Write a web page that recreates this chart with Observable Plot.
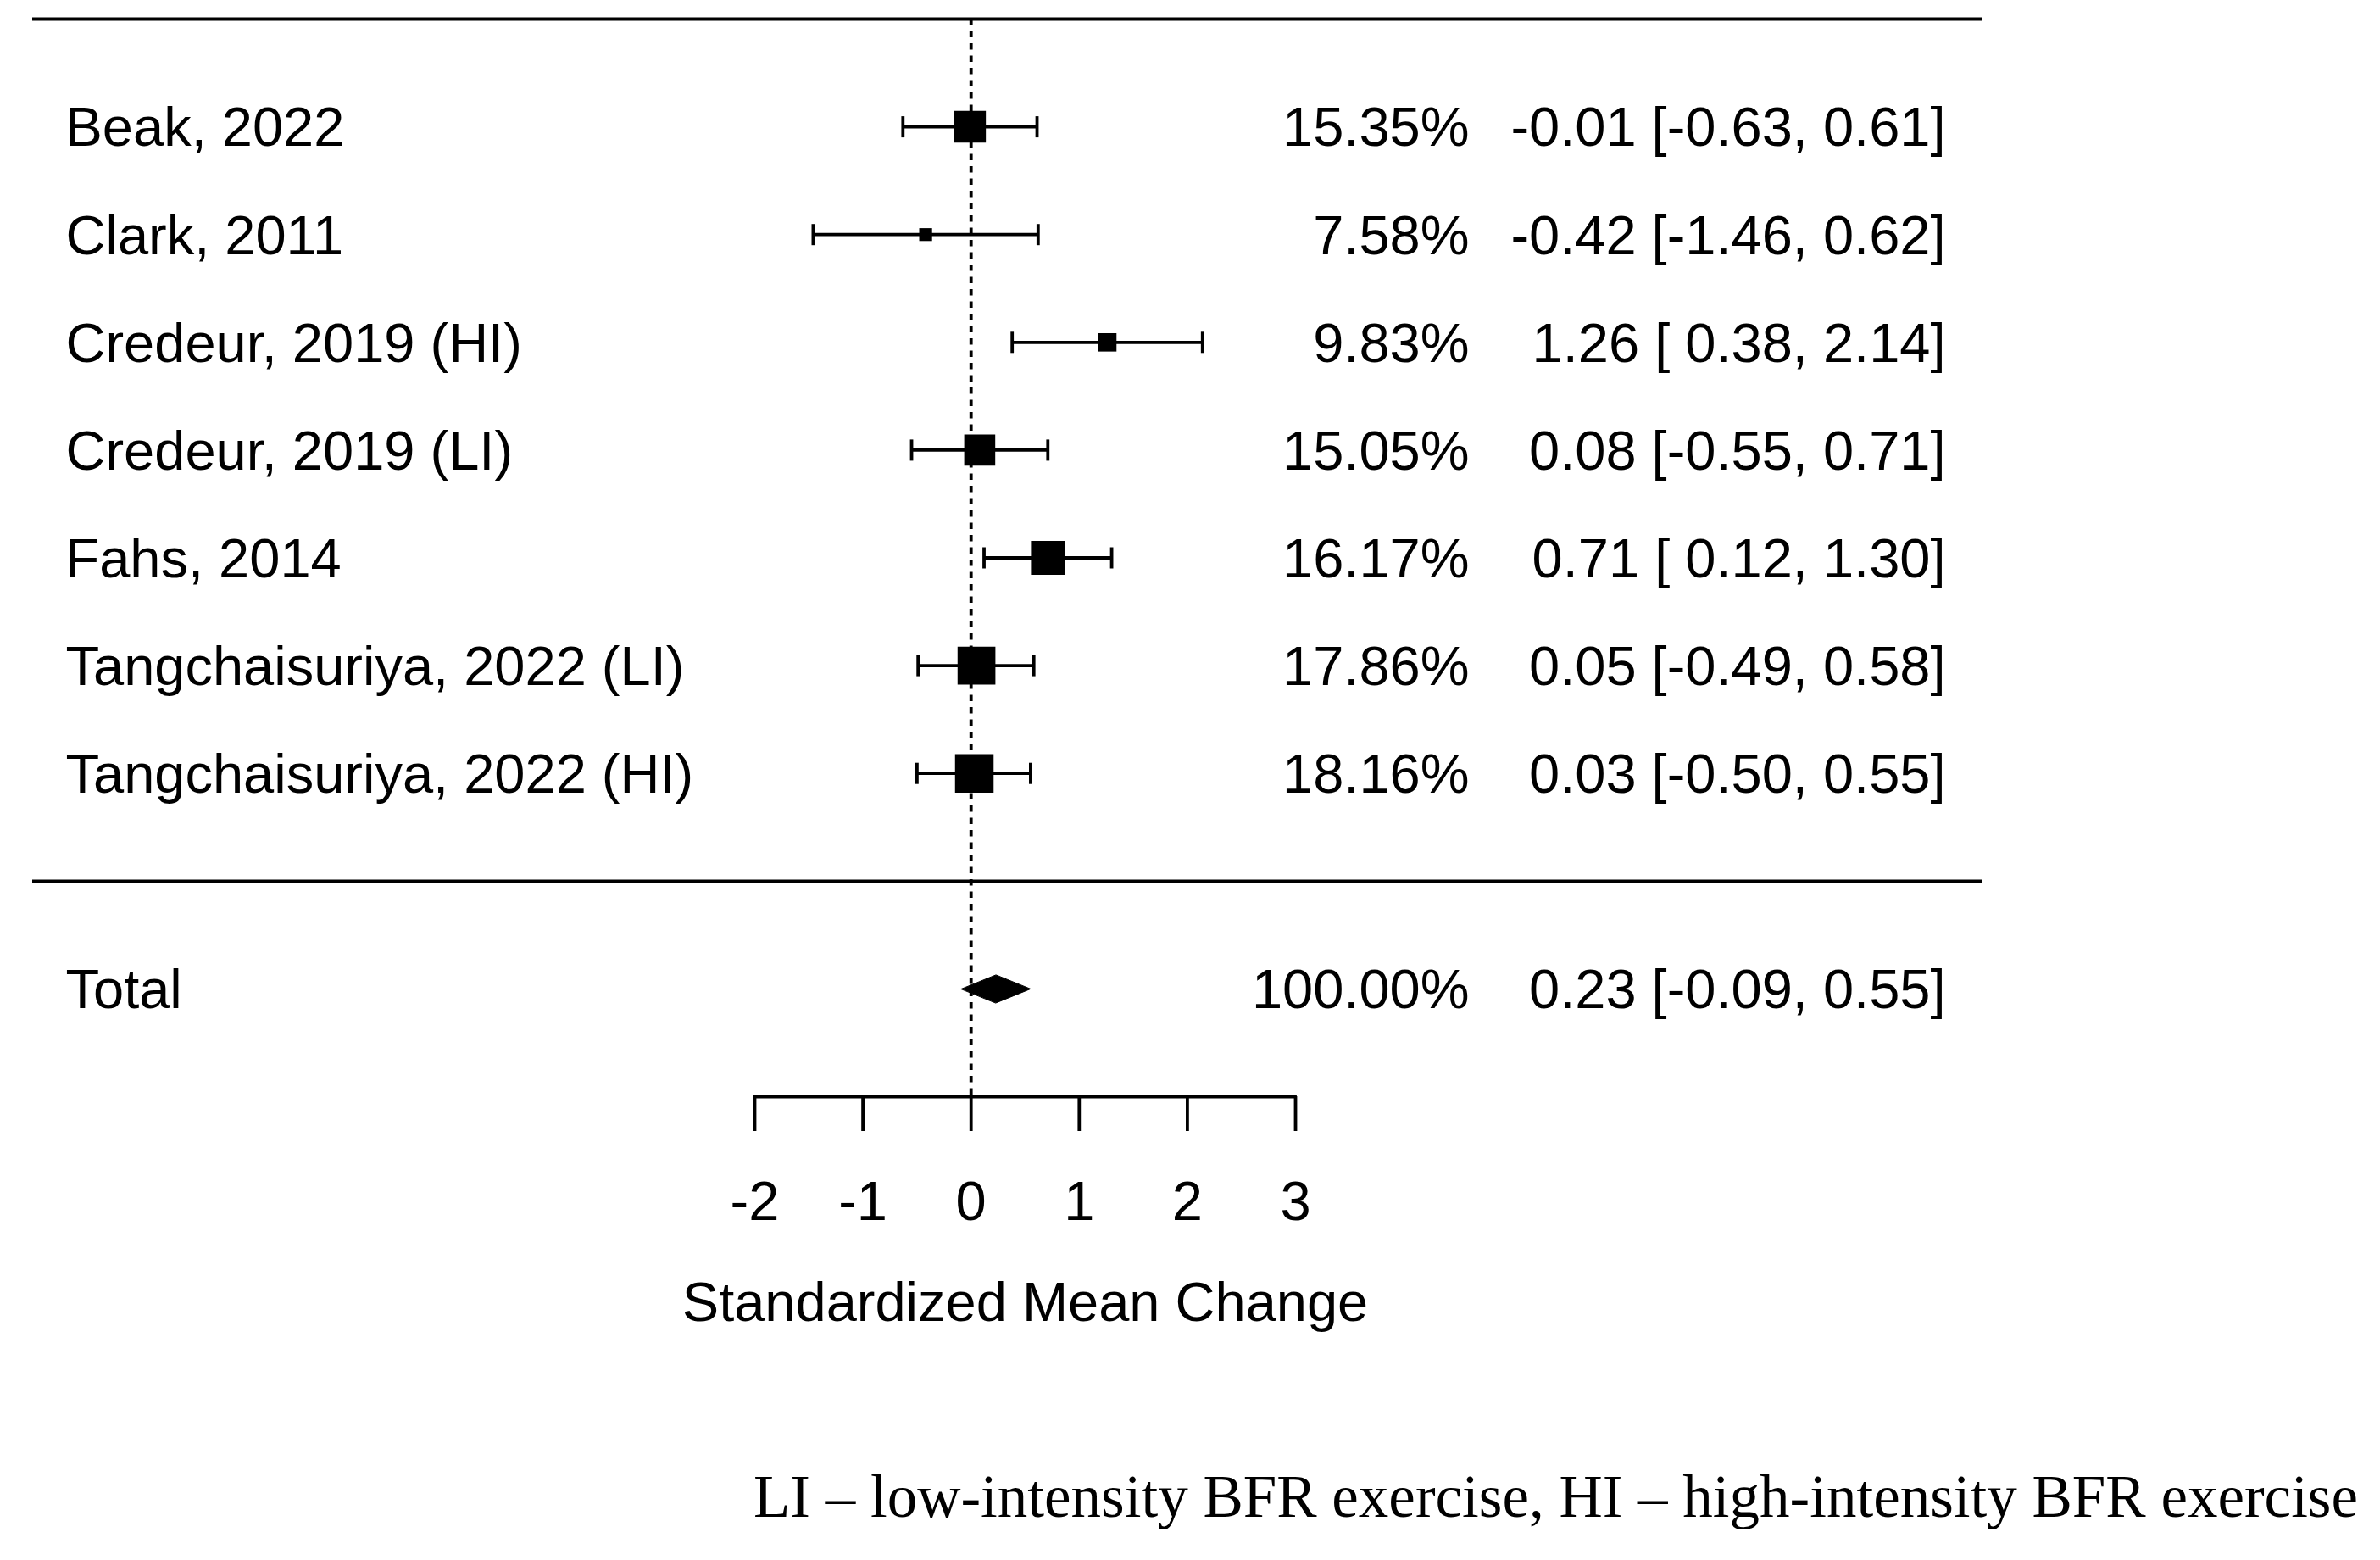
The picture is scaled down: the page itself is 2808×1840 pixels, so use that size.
<!DOCTYPE html>
<html><head><meta charset="utf-8">
<script src="https://cdn.jsdelivr.net/npm/d3@7"></script>
<script src="https://cdn.jsdelivr.net/npm/@observablehq/plot@0.6"></script>
<style>
html,body{margin:0;padding:0;background:#fff;}
#wrap{position:relative;width:2808px;height:1840px;background:#fff;}
#chart svg{display:block;}
#caption{position:absolute;right:26px;top:1730px;font-family:'Liberation Serif','Times New Roman',serif;font-size:71px;line-height:71px;color:#000;white-space:nowrap;}
</style></head><body>
<div id="wrap"><div id="chart"></div><div id="caption"></div></div>
<script>
// ---- data ----
const studies = ["Beak, 2022","Clark, 2011","Credeur, 2019 (HI)","Credeur, 2019 (LI)","Fahs, 2014","Tangchaisuriya, 2022 (LI)","Tangchaisuriya, 2022 (HI)"];
const weights = [15.35, 7.58, 9.83, 15.05, 16.17, 17.86, 18.16];
const estimates = [-0.01, -0.42, 1.26, 0.08, 0.71, 0.05, 0.03];
const ciLower = [-0.63, -1.46, 0.38, -0.55, 0.12, -0.49, -0.50];
const ciUpper = [0.61, 0.62, 2.14, 0.71, 1.30, 0.58, 0.55];
const totalLabel = "Total";
const totalWeight = 100.00;
const totalEstimate = 0.23;
const totalLower = -0.09;
const totalUpper = 0.55;
const xTicks = [-2, -1, 0, 1, 2, 3];
const xTickLabels = ["-2", "-1", "0", "1", "2", "3"];
const xAxisTitle = "Standardized Mean Change";
const captionText = "LI – low-intensity BFR exercise, HI – high-intensity BFR exercise";

// ---- layout / style ----
const W = 2808, H = 1640;
const SW = 3.8;
const FS = 65;
const k = studies.length;
const topRow = k + 1, sepRow = 0, totalRow = -1, axisRow = -2;

const fmt = v => v.toFixed(2);
const fmtLo = v => (v >= 0 ? " " : "") + fmt(v);
const rows = studies.map((name, i) => ({name, weight: weights[i], est: estimates[i], lo: ciLower[i], hi: ciUpper[i], row: k - i}));
const total = {name: totalLabel, weight: totalWeight, est: totalEstimate, lo: totalLower, hi: totalUpper, row: totalRow};
const all = [...rows, total];
const annot = d => `${fmt(d.est)} [${fmtLo(d.lo)}, ${fmt(d.hi)}]`;
const wlab = d => `${fmt(d.weight)}%`;

const diamondH = 0.13;
const diamond = [
  {x: total.lo, y: total.row},
  {x: total.est, y: total.row + diamondH},
  {x: total.hi, y: total.row},
  {x: total.est, y: total.row - diamondH}
];
const capSymbol = {draw(ctx, size) { const r = Math.sqrt(size / Math.PI); ctx.moveTo(0, -r); ctx.lineTo(0, r); }};
const caps = rows.flatMap(d => [{x: d.lo, row: d.row}, {x: d.hi, row: d.row}]);
const [xMin, xMax] = d3.extent(xTicks);
const sideMin = 15.2, sideMax = 45.5;

const chart = Plot.plot({
  width: W, height: H,
  marginTop: 22, marginBottom: 347, marginLeft: 38, marginRight: 469,
  x: {domain: [xMin, xMax], range: [890, 1528]},
  y: {domain: [axisRow, topRow], axis: null},
  r: {type: "linear", domain: d3.extent(weights), range: [sideMin / Math.sqrt(Math.PI), sideMax / Math.sqrt(Math.PI)]},
  style: {fontFamily: "'Liberation Sans', Arial, sans-serif", fontSize: FS + "px", color: "black", background: "white"},
  marks: [
    Plot.ruleY([topRow, sepRow], {stroke: "black", strokeWidth: SW}),
    Plot.ruleX([0], {y1: topRow, y2: axisRow, stroke: "black", strokeWidth: SW, strokeDasharray: "7.5,7"}),
    Plot.ruleY([axisRow], {x1: xMin, x2: xMax, stroke: "black", strokeWidth: SW, strokeLinecap: "square"}),
    Plot.axisX({ticks: xTicks, tickFormat: d => xTickLabels[xTicks.indexOf(d)], tickSize: 41, tickPadding: 58, fontSize: FS, strokeWidth: SW, label: null, anchor: "bottom"}),
    Plot.ruleY(rows, {x1: "lo", x2: "hi", y: "row", stroke: "black", strokeWidth: SW}),
    Plot.dot(caps, {x: "x", y: "row", r: 12.5, symbol: capSymbol, fill: "none", stroke: "black", strokeWidth: SW}),
    Plot.dot(rows, {x: "est", y: "row", r: "weight", symbol: "square", fill: "black", stroke: "none"}),
    Plot.line(diamond, {x: "x", y: "y", curve: "linear-closed", fill: "black", stroke: "black", strokeWidth: 1}),
    Plot.text(all, {y: "row", text: "name", frameAnchor: "left", textAnchor: "start", lineAnchor: "middle", dx: 39, dy: 2, fontSize: FS}),
    Plot.text(all, {y: "row", text: wlab, frameAnchor: "right", textAnchor: "end", lineAnchor: "middle", dx: -606, dy: 2, fontSize: FS}),
    Plot.text(all, {y: "row", text: annot, frameAnchor: "right", textAnchor: "end", lineAnchor: "middle", dx: -44, dy: 2, fontSize: FS}),
    Plot.text([xAxisTitle], {x: (xMin + xMax) / 2, text: d => d, frameAnchor: "bottom", lineAnchor: "middle", dy: 244, fontSize: FS})
  ]
});
document.getElementById("chart").appendChild(chart);
document.getElementById("caption").textContent = captionText;
</script>
</body></html>
